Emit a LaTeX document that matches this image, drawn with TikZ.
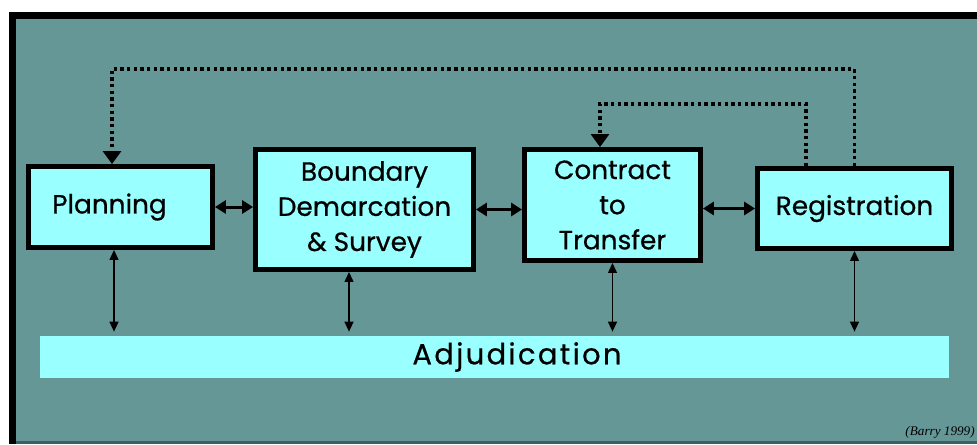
\documentclass[tikz,border=0pt]{standalone}
\usepackage{fontspec}
\setmainfont{Poppins}
\newfontfamily\stagefont[FakeBold=0.6]{Poppins}
\newfontfamily\barfont[FakeBold=0.6, LetterSpace=8]{Poppins}
\newfontfamily\citefont{Liberation Serif}
\usepackage{tikz}
\usetikzlibrary{arrows.meta,positioning}
\usepackage{xcolor}
\definecolor{bgteal}{RGB}{101,151,151}
\definecolor{boxcyan}{RGB}{153,255,255}
\definecolor{edgeteal}{RGB}{62,96,96}
\tikzstyle{stagebox} = [draw=black, line width=2.8pt, fill=boxcyan, align=center, inner sep=0pt, font=\stagefont\fontsize{15}{20}\selectfont]
\tikzstyle{barbox} = [fill=boxcyan, inner sep=0pt, font=\barfont\fontsize{16.5}{20}\selectfont]
\tikzstyle{linkarrow} = [line width=1.7pt, {Triangle[length=6.2pt,width=7.4pt]}-{Triangle[length=6.2pt,width=7.4pt]}]
\tikzstyle{adjarrow} = [line width=0.8pt, {Triangle[length=5.7pt,width=5.1pt]}-{Triangle[length=5.7pt,width=5.1pt]}]
\tikzstyle{feedback} = [line width=1.9pt, dash pattern=on 1.9pt off 1.9pt, -{Triangle[length=7.4pt,width=10.2pt]}]

\begin{document}
\begin{tikzpicture}[x=0.02cm, y=-0.02cm]
\useasboundingbox (0,0) rectangle (977,444);
% Frame
\fill[black] (9,12) rectangle (977,444);
\fill[bgteal] (16,19) rectangle (977,444);
\fill[edgeteal] (16,441) rectangle (977,444);

% Stages
\node[stagebox, minimum width=3.68cm, minimum height=1.62cm] (plan) at (120.5,207) {Planning\hspace*{0.44cm}};
\node[stagebox, minimum width=4.36cm, minimum height=2.4cm] (bound) at (364.5,209.5) {Boundary\\Demarcation\\\& Survey};
\node[stagebox, minimum width=3.52cm, minimum height=2.22cm] (contract) at (612.5,205) {Contract\\to\\Transfer};
\node[stagebox, minimum width=3.88cm, minimum height=1.6cm] (regis) at (854.5,208.5) {Registration};
\node[barbox, minimum width=18.18cm, minimum height=0.84cm] (adjud) at (494.5,357) {\hspace*{0.9cm}Adjudication};

% Links between stages
\draw[linkarrow] (plan.east) -- (plan.east -| bound.west);
\draw[linkarrow] (bound.east) -- (bound.east -| contract.west);
\draw[linkarrow] (regis.west -| contract.east) -- (regis.west);

% Links to adjudication
\draw[adjarrow] ([xshift=-0.13cm]plan.south) -- ([xshift=-0.13cm, yshift=0.08cm]plan.south |- adjud.north);
\draw[adjarrow] ([xshift=-0.31cm]bound.south) -- ([xshift=-0.31cm, yshift=0.08cm]bound.south |- adjud.north);
\draw[adjarrow] (contract.south) -- ([yshift=0.08cm]contract.south |- adjud.north);
\draw[adjarrow] (regis.south) -- ([yshift=0.08cm]regis.south |- adjud.north);

% Feedback loops
\coordinate (outertop) at (0,69);
\coordinate (innertop) at (0,104);
\draw[feedback] (regis.north) -- (regis.north |- outertop) -| ([xshift=-0.17cm]plan.north);
\draw[feedback] ([xshift=-0.97cm]regis.north) -- ([xshift=-0.97cm]regis.north |- innertop) -| ([xshift=-0.25cm]contract.north);

% Source
\node[anchor=east, inner sep=0pt, font=\citefont\itshape\fontsize{7.5}{9}\selectfont] (cite) at (975,432) {(Barry 1999)};
\end{tikzpicture}
\end{document}
